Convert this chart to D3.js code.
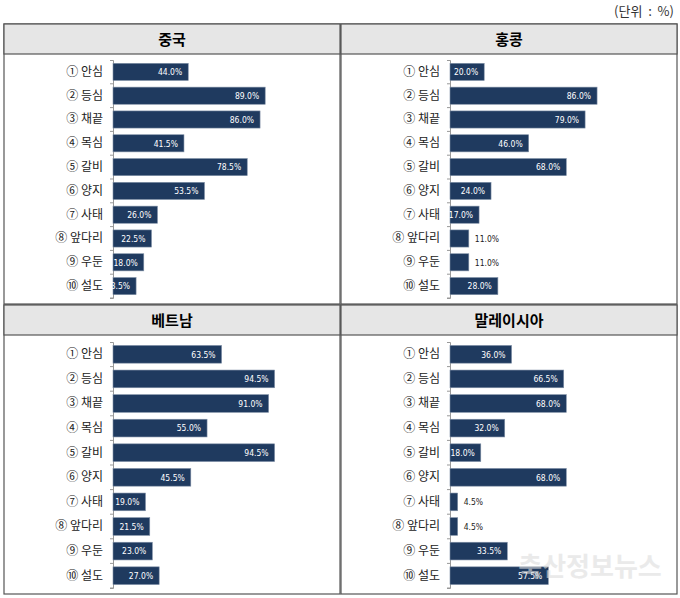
<!DOCTYPE html><html><head><meta charset="utf-8"><script src="https://cdn.jsdelivr.net/npm/d3@7"></script>
<style>body{margin:0;background:#fff}</style></head><body><svg id="c" width="680" height="598"></svg>
<script>
const categories=["① 안심","② 등심","③ 채끝","④ 목심","⑤ 갈비","⑥ 양지","⑦ 사태","⑧ 앞다리","⑨ 우둔","⑩ 설도"];
const countries=["중국","홍콩","베트남","말레이시아"];
const china=[44.0,89.0,86.0,41.5,78.5,53.5,26.0,22.5,18.0,13.5];
const hongkong=[20.0,86.0,79.0,46.0,68.0,24.0,17.0,11.0,11.0,28.0];
const vietnam=[63.5,94.5,91.0,55.0,94.5,45.5,19.0,21.5,23.0,27.0];
const malaysia=[36.0,66.5,68.0,32.0,18.0,68.0,4.5,4.5,33.5,57.5];
const series=[china,hongkong,vietnam,malaysia];
const svg=d3.select("#c");
const F="'Noto Sans CJK KR','Noto Sans',sans-serif";
const N="'DejaVu Sans Condensed','Liberation Sans Narrow',sans-serif";
svg.append("text").attr("x",674).attr("y",16).attr("text-anchor","end").attr("font-family",F).attr("font-size",13).attr("fill","#333").attr("xml:space","preserve").text("(단위  :  %)");
const panels=[{x:4,y:24,h:280},{x:341,y:24,h:280},{x:4,y:305,h:289},{x:341,y:305,h:289}];
const W=336;
panels.forEach((p,i)=>{
  const g=svg.append("g").attr("transform",`translate(${p.x},${p.y})`);
  g.append("rect").attr("width",W).attr("height",p.h).attr("fill","#fff").attr("stroke","#555").attr("stroke-width",1.2);
  g.append("rect").attr("width",W).attr("height",30).attr("fill","#e6e6e6").attr("stroke","#555").attr("stroke-width",1.2);
  g.append("text").attr("x",W/2).attr("y",21).attr("text-anchor","middle").attr("font-family",F).attr("font-weight","bold").attr("font-size",15).text(countries[i]);
  const top=i<2?36:37, bot=p.h-6;
  const y=d3.scaleBand().domain(categories).range([top,bot]).paddingInner(0.28).paddingOuter(0.14);
  const x=d3.scaleLinear().domain([0,100]).range([109,109+171]);
  const ax=g.append("g").attr("transform","translate(109,0)").call(d3.axisLeft(y).tickSize(3).tickPadding(7));
  ax.select(".domain").attr("stroke","#999");
  ax.selectAll(".tick line").attr("stroke","#999").attr("transform",`translate(0,${y.step()/2})`);
  ax.selectAll(".tick text").attr("font-family",F).attr("font-size",12).attr("fill","#222");
  const vals=series[i];
  g.selectAll("rect.bar").data(vals).join("rect").attr("class","bar")
    .attr("x",x(0)).attr("y",(d,j)=>y(categories[j])).attr("width",d=>x(d)-x(0)).attr("height",y.bandwidth())
    .attr("fill","#1f3a5f").attr("stroke","#7f8fa6").attr("stroke-width",0.6);
  g.selectAll("text.v").data(vals).join("text").attr("class","v")
    .attr("x",d=>d<12?x(d)+6:x(d)-6).attr("y",(d,j)=>y(categories[j])+y.bandwidth()/2+3.2)
    .attr("text-anchor",d=>d<12?"start":"end").attr("font-family",N)
    .attr("font-size",8.5).attr("fill",d=>d<12?"#222":"#fff").text(d=>d.toFixed(1)+"%");
});
svg.append("text").attr("x",590).attr("y",576).attr("text-anchor","middle").attr("font-family",F).attr("font-weight","bold").attr("font-size",26).attr("fill","#ddd").attr("opacity",0.6).text("축산정보뉴스");
</script></body></html>
